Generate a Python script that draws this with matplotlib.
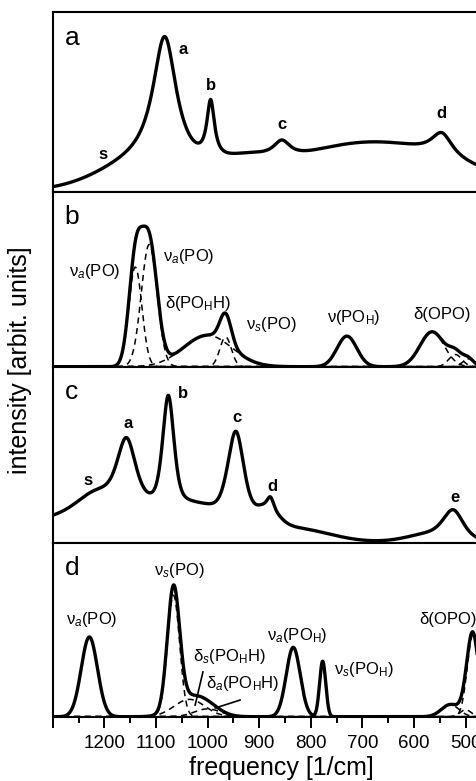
import numpy as np
import matplotlib
matplotlib.use('Agg')
import matplotlib.pyplot as plt

plt.rcParams['font.family'] = 'Liberation Sans'
plt.rcParams['mathtext.fontset'] = 'custom'
plt.rcParams['mathtext.rm'] = 'Liberation Sans'
plt.rcParams['mathtext.it'] = 'Liberation Sans:italic'
plt.rcParams['mathtext.bf'] = 'Liberation Sans:bold'

# ---- panel a : measured spectrum, bands (pos, height, fwhm)
a_pk_pos = [1083, 994, 856, 546]
a_pk_hgt = [0.72, 0.32, 0.09, 0.13]
a_pk_fwhm = [56, 18, 40, 50]
a_bg_pos = [1125, 680, 930]
a_bg_hgt = [0.14, 0.27, 0.08]
a_bg_fwhm = [200, 400, 120]
a_lbl = ['s', 'a', 'b', 'c', 'd']
a_lbl_x = [1202, 1047, 993, 855, 547]
a_lbl_y = [0.206, 0.794, 0.594, 0.378, 0.439]

# ---- panel b : calculated, gaussian components
b_pos = [1140, 1113, 1000, 965, 730, 565, 520, 495]
b_hgt = [0.57, 0.70, 0.18, 0.17, 0.175, 0.20, 0.07, 0.045]
b_fwhm = [30, 36, 110, 26, 45, 55, 30, 25]
b_lbl = ['ν$_{a}$(PO)', 'ν$_{a}$(PO)', 'δ(PO$_\\mathrm{H}$H)', 'ν$_{s}$(PO)',
         'ν(PO$_\\mathrm{H}$)', 'δ(OPO)']
b_lbl_x = [1218, 1037, 1018, 877, 717, 546]
b_lbl_y = [0.543, 0.629, 0.362, 0.244, 0.282, 0.301]

# ---- panel c : measured spectrum
c_pk_pos = [1157, 1076, 945, 878, 524]
c_pk_hgt = [0.36, 0.62, 0.51, 0.06, 0.15]
c_pk_fwhm = [42, 26, 38, 14, 45]
c_bg_pos = [1160, 1215, 1010, 885, 820, 560]
c_bg_hgt = [0.21, 0.08, 0.05, 0.10, 0.05, 0.05]
c_bg_fwhm = [400, 80, 100, 50, 150, 120]
c_lbl = ['s', 'a', 'b', 'c', 'd', 'e']
c_lbl_x = [1232, 1154, 1047, 943, 875, 520]
c_lbl_y = [0.358, 0.681, 0.851, 0.715, 0.324, 0.262]

# ---- panel d : calculated, gaussian components
d_pos = [1229, 1066, 1035, 1000, 834, 777, 530, 500, 486]
d_hgt = [0.46, 0.70, 0.10, 0.045, 0.40, 0.32, 0.07, 0.04, 0.47]
d_fwhm = [37, 28, 70, 60, 32, 14, 40, 25, 26]
d_lbl = ['ν$_{a}$(PO)', 'ν$_{s}$(PO)', 'δ$_{s}$(PO$_\\mathrm{H}$H)',
         'δ$_{a}$(PO$_\\mathrm{H}$H)', 'ν$_{a}$(PO$_\\mathrm{H}$)',
         'ν$_{s}$(PO$_\\mathrm{H}$)', 'δ(OPO)']
d_lbl_x = [1224, 1055, 958, 932, 827, 698, 535]
d_lbl_y = [0.558, 0.846, 0.346, 0.193, 0.467, 0.275, 0.558]

freq = np.linspace(1300, 470, 1661)


def gauss(x, c, h, w):
    return h * np.exp(-4 * np.log(2) * ((x - c) / w) ** 2)


def lorentz(x, c, h, w):
    return h / (1 + ((x - c) / (w / 2)) ** 2)


def measured(pk_pos, pk_hgt, pk_fwhm, bg_pos, bg_hgt, bg_fwhm, eta=1.0):
    y = np.zeros_like(freq)
    for c, h, w in zip(pk_pos, pk_hgt, pk_fwhm):
        y += eta * lorentz(freq, c, h, w) + (1 - eta) * gauss(freq, c, h, w)
    for c, h, w in zip(bg_pos, bg_hgt, bg_fwhm):
        y += gauss(freq, c, h, w)
    return y


fig = plt.figure(figsize=(4.77, 7.81), dpi=100)
x0, wd = 52.7 / 477, 1 - 52.7 / 477
boxes = [(12.3, 192.0), (192.0, 366.7), (366.7, 543.3), (543.3, 716.7)]
axs = []
for top, bot in boxes:
    ax = fig.add_axes([x0, 1 - bot / 781, wd, (bot - top) / 781])
    ax.set_xlim(1300, 478)
    ax.set_ylim(0, 1)
    ax.set_yticks([])
    for s in ['left', 'top', 'bottom']:
        ax.spines[s].set_linewidth(1.5)
    ax.spines['right'].set_visible(False)
    axs.append(ax)

lw = 2.4
dlw = 1.1

# a
ya = measured(a_pk_pos, a_pk_hgt, a_pk_fwhm, a_bg_pos, a_bg_hgt, a_bg_fwhm)
axs[0].plot(freq, ya, color='k', lw=lw)
for t, x, y in zip(a_lbl, a_lbl_x, a_lbl_y):
    axs[0].text(x, y, t, ha='center', va='center', fontsize=12, fontweight='bold')

# b
yb = np.zeros_like(freq)
for c, h, w in zip(b_pos, b_hgt, b_fwhm):
    g = gauss(freq, c, h, w)
    yb += g
    axs[1].plot(freq, g, color='k', lw=dlw, ls=(0, (4, 3)))
axs[1].plot(freq, yb, color='k', lw=lw)
for t, x, y in zip(b_lbl, b_lbl_x, b_lbl_y):
    axs[1].text(x, y, t, ha='center', va='center', fontsize=12)

# c
yc = measured(c_pk_pos, c_pk_hgt, c_pk_fwhm, c_bg_pos, c_bg_hgt, c_bg_fwhm, eta=0.5)
axs[2].plot(freq, yc, color='k', lw=lw)
for t, x, y in zip(c_lbl, c_lbl_x, c_lbl_y):
    axs[2].text(x, y, t, ha='center', va='center', fontsize=12, fontweight='bold')

# d
yd = np.zeros_like(freq)
for c, h, w in zip(d_pos, d_hgt, d_fwhm):
    g = gauss(freq, c, h, w)
    yd += g
    axs[3].plot(freq, g, color='k', lw=dlw, ls=(0, (4, 3)))
axs[3].plot(freq, yd, color='k', lw=lw)
for t, x, y in zip(d_lbl, d_lbl_x, d_lbl_y):
    axs[3].text(x, y, t, ha='center', va='center', fontsize=12)
axs[3].plot([1009, 1024], [0.258, 0.067], color='k', lw=1.2)
axs[3].plot([937, 985], [0.096, 0.05], color='k', lw=1.2)

for i, ax in enumerate(axs):
    ax.text(0.028, 0.818, 'abcd'[i], transform=ax.transAxes, fontsize=19,
            ha='left', va='baseline')
    if i < 3:
        ax.set_xticks([])

ax = axs[3]
ax.set_xticks(np.arange(1300, 499, -100))
ax.set_xticklabels([''] + [str(v) for v in range(1200, 499, -100)])
ax.set_xticks(np.arange(1250, 470, -100), minor=True)
ax.tick_params(axis='x', which='major', direction='out', length=8, width=1.4,
               labelsize=13.5, pad=5)
ax.tick_params(axis='x', which='minor', direction='out', length=4.5, width=1.4)

fig.text(281.7 / 477, 1 - 768 / 781, 'frequency [1/cm]', ha='center',
         va='center', fontsize=18)
fig.text(20 / 477, 1 - 360 / 781, 'intensity [arbit. units]', ha='center',
         va='center', rotation=90, fontsize=18)

fig.savefig('out.png', dpi=100)
